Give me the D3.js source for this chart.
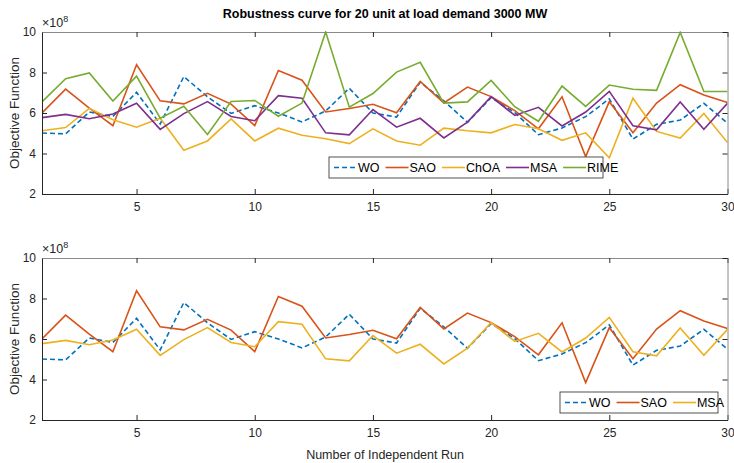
<!DOCTYPE html>
<html>
<head>
<meta charset="utf-8">
<script src="https://cdn.jsdelivr.net/npm/d3@7"></script>
<style>
  body { margin: 0; background: #fff; }
  svg { display: block; font-family: "Liberation Sans", Arial, Helvetica, sans-serif; }
  .tick text { fill: #262626; font-size: 12px; }
</style>
</head>
<body>
<div id="chart"></div>
<script>
// ——— DATA ——————————————————————————————————————————————————————————
const runs = d3.range(1, 31);
const xTicks = [5, 10, 15, 20, 25, 30];
const yTicks = [2, 4, 6, 8, 10];

// objective values in units of 1e8
const WO = [5.01, 4.97, 6.05, 5.83, 7.02, 5.46, 7.8, 6.8, 5.98, 6.36, 6.0, 5.56, 6.1, 7.22, 6.0, 5.8, 7.52, 6.6, 5.54, 6.76, 6.02, 4.93, 5.26, 5.82, 6.7, 4.71, 5.44, 5.65, 6.48, 5.5];
const SAO = [6.0, 7.18, 6.24, 5.37, 8.38, 6.6, 6.45, 6.97, 6.44, 5.38, 8.1, 7.62, 6.05, 6.22, 6.43, 6.01, 7.56, 6.5, 7.28, 6.81, 6.12, 5.22, 6.8, 3.85, 6.56, 5.03, 6.49, 7.4, 6.89, 6.52];
const ChOA = [5.12, 5.28, 6.23, 5.67, 5.3, 5.74, 4.16, 4.62, 5.71, 4.62, 5.25, 4.9, 4.73, 4.49, 5.22, 4.62, 4.41, 5.25, 5.12, 5.02, 5.43, 5.22, 4.65, 5.02, 3.79, 6.73, 5.09, 4.76, 5.98, 4.54];
const MSA = [5.77, 5.93, 5.72, 5.95, 6.48, 5.19, 5.97, 6.56, 5.83, 5.62, 6.86, 6.73, 5.02, 4.92, 6.17, 5.3, 5.74, 4.77, 5.55, 6.81, 5.88, 6.28, 5.36, 6.05, 7.07, 5.37, 5.17, 6.55, 5.2, 6.48];
const RIME = [6.55, 7.69, 7.98, 6.59, 7.82, 5.74, 6.33, 4.94, 6.57, 6.62, 5.84, 6.49, 10.0, 6.29, 6.96, 8.02, 8.5, 6.49, 6.55, 7.61, 6.31, 5.59, 7.33, 6.33, 7.38, 7.17, 7.12, 9.98, 7.06, 7.06];

const colors = ["#0072BD", "#D95319", "#EDB120", "#7E2F8E", "#77AC30"];

const topSeries = [
    { name: "WO", values: WO, color: colors[0], dash: "5,3" },
    { name: "SAO", values: SAO, color: colors[1] },
    { name: "ChOA", values: ChOA, color: colors[2] },
    { name: "MSA", values: MSA, color: colors[3] },
    { name: "RIME", values: RIME, color: colors[4] }
];
const bottomSeries = [
    { name: "WO", values: WO, color: colors[0], dash: "5,3" },
    { name: "SAO", values: SAO, color: colors[1] },
    { name: "MSA", values: MSA, color: colors[2] }
];

const width = 734;
const height = 463;
const left = 42, right = 727.5;

const svg = d3.select("#chart").append("svg")
    .attr("width", width)
    .attr("height", height);

svg.append("text")
    .attr("x", 385)
    .attr("y", 18)
    .attr("text-anchor", "middle")
    .style("font-size", "12.5px")
    .style("font-weight", "bold")
    .attr("fill", "#000")
    .text("Robustness curve for 20 unit at load demand 3000 MW");

const xScale = d3.scaleLinear().domain([1, 30]).range([left, right]);

function drawPanel(top, bottom, series, legendBox) {
    const yScale = d3.scaleLinear().domain([2, 10]).range([bottom, top]);
    const g = svg.append("g");

    // ——— SERIES ————————————————————————————————————————————————————
    const line = d3.line()
        .x((d, i) => xScale(runs[i]))
        .y((d) => yScale(d));

    const clip = "clip" + top;
    svg.append("clipPath").attr("id", clip)
        .append("rect").attr("x", left).attr("y", top - 1)
        .attr("width", right - left).attr("height", bottom - top + 2);

    g.append("g").attr("clip-path", `url(#${clip})`)
        .selectAll("path")
        .data(series)
        .enter()
        .append("path")
        .attr("d", (d) => line(d.values))
        .attr("fill", "none")
        .attr("stroke", (d) => d.color)
        .attr("stroke-width", 1.6)
        .attr("stroke-dasharray", (d) => d.dash || null);

    // ——— AXES ——————————————————————————————————————————————————————
    const xb = g.append("g")
        .attr("transform", `translate(0,${bottom})`)
        .call(d3.axisBottom(xScale).tickValues(xTicks).tickSizeInner(-5).tickSizeOuter(0).tickPadding(8));
    const yl = g.append("g")
        .attr("transform", `translate(${left},0)`)
        .call(d3.axisLeft(yScale).tickValues(yTicks).tickSizeInner(-5).tickSizeOuter(0).tickPadding(6));
    const xt = g.append("g")
        .attr("transform", `translate(0,${top})`)
        .call(d3.axisTop(xScale).tickValues(xTicks).tickSizeInner(-5).tickSizeOuter(0).tickFormat(""));
    const yr = g.append("g")
        .attr("transform", `translate(${right},0)`)
        .call(d3.axisRight(yScale).tickValues(yTicks).tickSizeInner(-5).tickSizeOuter(0).tickFormat(""));

    [xb, yl].forEach((a) => {
        a.select(".domain").attr("stroke", "#262626");
        a.selectAll(".tick line").attr("stroke", "#262626");
    });
    [xt, yr].forEach((a) => {
        a.select(".domain").attr("stroke", "#8a8a8a");
        a.selectAll(".tick line").attr("stroke", "#262626");
    });
    g.selectAll(".tick text").style("font-size", "12px").attr("fill", "#262626");

    // ×10^8 exponent label
    const ex = g.append("text")
        .attr("x", left)
        .attr("y", top - 5)
        .attr("fill", "#262626")
        .style("font-size", "12.5px");
    ex.append("tspan").text("\u00d710");
    ex.append("tspan").attr("dy", -5).style("font-size", "9px").text("8");

    // y label
    g.append("text")
        .attr("transform", `translate(19,${(top + bottom) / 2}) rotate(-90)`)
        .attr("text-anchor", "middle")
        .attr("fill", "#262626")
        .style("font-size", "13.5px")
        .text("Objective Function");

    // ——— LEGEND ————————————————————————————————————————————————————
    const lg = g.append("g");
    lg.append("rect")
        .attr("x", legendBox.x).attr("y", legendBox.y)
        .attr("width", legendBox.w).attr("height", 21)
        .attr("fill", "#fff").attr("stroke", "#262626").attr("stroke-width", 0.8);
    let cx = legendBox.x + 5;
    series.forEach((s) => {
        lg.append("line")
            .attr("x1", cx).attr("x2", cx + 23)
            .attr("y1", legendBox.y + 10.5).attr("y2", legendBox.y + 10.5)
            .attr("stroke", s.color).attr("stroke-width", 1.6)
            .attr("stroke-dasharray", s.dash || null);
        const t = lg.append("text")
            .attr("x", cx + 24).attr("y", legendBox.y + 15)
            .attr("fill", "#000")
            .style("font-size", "12.5px")
            .text(s.name);
        cx += 24 + t.node().getComputedTextLength() + 6;
    });
}

drawPanel(32, 194, topSeries, { x: 329, y: 157, w: 274 });
drawPanel(258, 420, bottomSeries, { x: 560, y: 392, w: 158 });

svg.append("text")
    .attr("x", 385)
    .attr("y", 459)
    .attr("text-anchor", "middle")
    .attr("fill", "#262626")
    .style("font-size", "12.5px")
    .text("Number of Independent Run");
</script>
</body>
</html>
